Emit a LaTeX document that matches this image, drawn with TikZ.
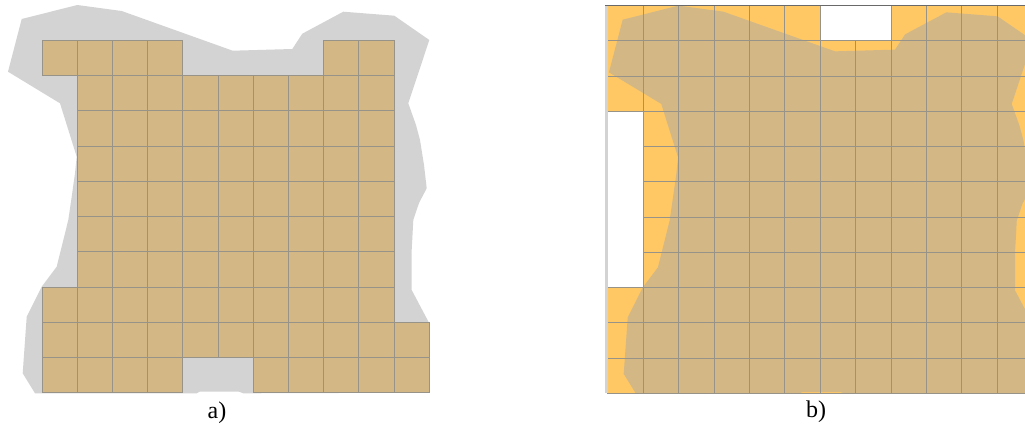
\documentclass[tikz,border=0pt]{standalone}
\usepackage{fontspec}
\setmainfont{Liberation Serif}
\definecolor{cellTan}{RGB}{211,184,134}
\definecolor{blobGrey}{RGB}{211,211,211}
\definecolor{cellOrange}{RGB}{255,200,100}
\definecolor{gridLine}{RGB}{152,147,136}
\definecolor{topLine}{RGB}{105,105,105}
\def\blobA{(21.7,19) -- (77.3,5) -- (121.7,11) -- (232.7,50.7) -- (292.3,49) -- (302.3,33.7) -- (343.3,11.7) -- (394.3,15.7) -- (429.3,40) -- (408.3,103.3) -- (416,125) -- (420,140) -- (424,165) -- (426.7,188.3) -- (419,203) -- (413.3,220) -- (411.7,250) -- (411.7,290) -- (429.3,323.3) -- (429.3,392.7) -- (243.3,393.3) -- (238.3,391.5) -- (200,391.5) -- (196.7,393.3) -- (35,393.3) -- (22.7,373.3) -- (26.7,316.7) -- (41.7,286.7) -- (56.7,266.7) -- (68.3,220) -- (71.7,196.7) -- (75,173.3) -- (76.7,156.7) -- (60,103.3) -- (8,71.7) -- cycle}
\tikzset{
  cellfillA/.style={fill=cellTan},
  cellfillB/.style={fill=cellOrange},
  cellline/.style={draw=gridLine, line width=0.9pt},
  lbl/.style={anchor=base, inner sep=0pt, font=\fontsize{24}{28}\selectfont}
}
\begin{document}
\begin{tikzpicture}[x=1pt,y=-1pt]
\useasboundingbox (0,0) rectangle (1025,426);
% ---------------- panel a ----------------
\fill[blobGrey] \blobA;
\def\cellsA{0/{0,1,2,3,8,9},1/{1,...,9},2/{1,...,9},3/{1,...,9},4/{1,...,9},5/{1,...,9},6/{1,...,9},7/{0,...,9},8/{0,...,10},9/{0,1,2,3,6,7,8,9,10}}
\foreach \r/\cs in \cellsA {
  \foreach \c in \cs {
    \path[cellfillA] ({42+35.2*\c},{40.3+35.24*\r}) rectangle ++(35.2,35.24);
  }
}
\foreach \r/\cs in \cellsA {
  \foreach \c in \cs {
    \path[cellline] ({42+35.2*\c},{40.3+35.24*\r}) rectangle ++(35.2,35.24);
  }
}
\node[lbl] (la) at (217,418) {a)};
% ---------------- panel b ----------------
\begin{scope}
\clip (600,0) rectangle (1025,426);
\foreach \r in {0,...,10} {
  \foreach \c in {0,...,11} {
    \pgfmathtruncatemacro\iswhite{or(and(\r==0,or(\c==6,\c==7)),and(\c==0,and(\r>2,\r<8)))}
    \ifnum\iswhite=0
      \path[cellfillB] ({607.7+35.42*\c},{5.7+35.24*\r}) rectangle ++(35.42,35.24);
    \fi
  }
}
\begin{scope}[xshift=600.86pt, yshift=-0.64pt, xscale=1.0063]
  \fill[cellTan] \blobA;
\end{scope}
\foreach \r in {0,...,10} {
  \foreach \c in {0,...,11} {
    \pgfmathtruncatemacro\iswhite{or(and(\r==0,or(\c==6,\c==7)),and(\c==0,and(\r>2,\r<8)))}
    \ifnum\iswhite=0
      \path[cellline] ({607.7+35.42*\c},{5.7+35.24*\r}) rectangle ++(35.42,35.24);
    \fi
  }
}
\fill[blobGrey] (605,5.7) rectangle (607.7,393.3);
\draw[topLine, line width=1.3pt] (605,5.7) -- (1025,5.7);
\end{scope}
\node[lbl] (lb) at (816,417) {b)};
\end{tikzpicture}
\end{document}
